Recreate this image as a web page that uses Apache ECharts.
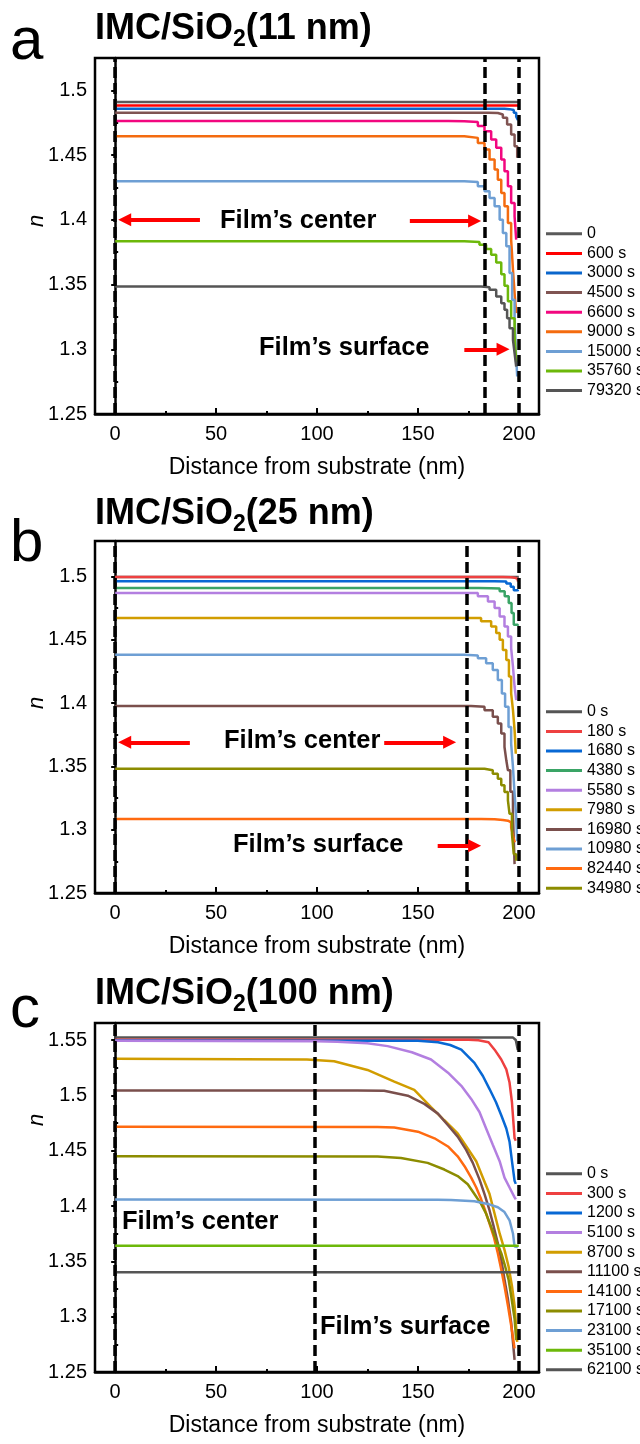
<!DOCTYPE html>
<html>
<head>
<meta charset="utf-8">
<script src="https://cdn.jsdelivr.net/npm/echarts@6/dist/echarts.min.js"></script>
<style>
  html, body { margin: 0; padding: 0; background: #fff; }
  #chart { width: 640px; height: 1444px; }
</style>
</head>
<body>
<div id="chart"></div>
<script>
// ---- ticks ----
const xTicks = [0, 50, 100, 150, 200];
const xMinor = [25, 75, 125, 175];
const yTicksAB = [1.25, 1.3, 1.35, 1.4, 1.45, 1.5];
const yMinorAB = [1.275, 1.325, 1.375, 1.425, 1.475];
const yTicksC = [1.25, 1.3, 1.35, 1.4, 1.45, 1.5, 1.55];
const yMinorC = [1.275, 1.325, 1.375, 1.425, 1.475, 1.525];

// ---- panel a : IMC/SiO2 (11 nm) ----
const namesA = ['0', '600 s', '3000 s', '4500 s', '6600 s', '9000 s', '15000 s', '35760 s', '79320 s'];
const colorsA = ['#5a5a5a', '#ff0000', '#0a66cc', '#805452', '#f2077f', '#f46b0f', '#6e9fd4', '#6cb80a', '#555555'];
const a0 = [[0, 1.491], [200, 1.491]];
const a600 = [[0, 1.4884], [200, 1.4884]];
const a3000 = [[0, 1.4858], [192.9, 1.4855], [195.4, 1.4848], [197.5, 1.4827], [198.7, 1.4796], [199.6, 1.477]];
const a4500 = [[0, 1.4827], [185, 1.4825], [189.6, 1.4814], [192.1, 1.4789], [194.2, 1.4737], [196.2, 1.466], [197.9, 1.4569], [199.2, 1.4479]];
const a6600 = [[0, 1.4763], [165, 1.4762], [173, 1.4755], [179.7, 1.4724], [183, 1.4685], [186.3, 1.4621], [188.8, 1.4556], [191.3, 1.4466], [192.9, 1.4375], [194.6, 1.426], [196.2, 1.413], [197.9, 1.4027], [198.7, 1.3847]];
const a9000 = [[0, 1.4646], [164.8, 1.4646], [173, 1.4633], [179.7, 1.4594], [183, 1.4543], [185.5, 1.4465], [188, 1.4388], [189.6, 1.431], [191.3, 1.4207], [192.9, 1.4104], [194.6, 1.3975], [196.2, 1.3846], [197.1, 1.3614], [197.9, 1.3434], [198.7, 1.328]];
const a15000 = [[0, 1.4298], [165, 1.4297], [173, 1.4293], [179.7, 1.4259], [183, 1.422], [185.5, 1.4169], [188, 1.4104], [190.5, 1.4001], [192.1, 1.3898], [193.8, 1.3795], [195.4, 1.3589], [196.7, 1.3382], [197.9, 1.3253], [198.5, 1.30], [199.2, 1.279]];
const a35760 = [[0, 1.3834], [165, 1.3834], [173, 1.3829], [180.5, 1.3808], [183.8, 1.3775], [186.3, 1.373], [188.8, 1.367], [191.3, 1.358], [192.9, 1.349], [194.6, 1.337], [196.2, 1.324], [197.9, 1.311], [198.7, 1.29]];
const a79320 = [[0, 1.3485], [170, 1.3485], [181.3, 1.348], [185.5, 1.346], [188.8, 1.3408], [191.3, 1.3356], [192.9, 1.3305], [194.2, 1.324], [195.4, 1.3163], [197.1, 1.3073], [197.9, 1.297], [198.7, 1.2866]];
const dashA = [0, 183, 200];
const arrowsA = [[[42, 1.4], [4.7, 1.4]], [[146, 1.399], [178.1, 1.399]], [[173, 1.30], [192.2, 1.30]]];

// ---- panel b : IMC/SiO2 (25 nm) ----
const namesB = ['0 s', '180 s', '1680 s', '4380 s', '5580 s', '7980 s', '16980 s', '10980 s', '82440 s', '34980 s'];
const colorsB = ['#555555', '#ee4040', '#0868d4', '#3aa466', '#b37fe0', '#d19d00', '#7a4f4c', '#6e9fd4', '#ff6a10', '#8c8c00'];
const b0 = [[0, 1.4995], [200, 1.4995]];
const b180 = [[0, 1.4995], [192, 1.4994], [196, 1.499], [198, 1.498], [199.5, 1.496]];
const b1680 = [[0, 1.4963], [188, 1.4961], [193.8, 1.4944], [196, 1.4918], [197.5, 1.4891], [199.5, 1.4883]];
const b4380 = [[0, 1.4908], [180, 1.4907], [186.3, 1.4905], [190.5, 1.4884], [193, 1.4844], [195, 1.4791], [196.4, 1.4712], [197.5, 1.4619], [199.5, 1.461]];
const b5580 = [[0, 1.4869], [171.4, 1.4869], [179.7, 1.4843], [184.7, 1.4803], [188, 1.475], [190.5, 1.4684], [192.9, 1.4605], [194.6, 1.4526], [196.2, 1.4434], [197.1, 1.4288], [197.9, 1.4129], [198.7, 1.4024]];
const b7980 = [[0, 1.4672], [174.7, 1.4672], [181.3, 1.4646], [186.3, 1.4605], [188.8, 1.4553], [190.5, 1.45], [192.1, 1.442], [193.8, 1.4341], [195.1, 1.4209], [196.2, 1.4077], [197.1, 1.3944], [197.9, 1.3786], [198.5, 1.36]];
const b16980 = [[0, 1.3976], [176.3, 1.397], [183, 1.3944], [187.1, 1.3891], [189.6, 1.3838], [191.3, 1.3759], [192.9, 1.3653], [193.8, 1.3548], [194.6, 1.347], [195.8, 1.33], [197.1, 1.3124], [197.9, 1.2728]];
const b10980 = [[0, 1.4381], [173, 1.4375], [179.7, 1.4354], [183.8, 1.4314], [187.1, 1.4262], [189.6, 1.4182], [191.6, 1.4076], [193.2, 1.397], [194.9, 1.3811], [196.2, 1.3679], [197.1, 1.3494], [197.9, 1.3283], [198.7, 1.31], [199.2, 1.291]];
const b82440 = [[0, 1.3085], [181.3, 1.3082], [188, 1.3077], [192.1, 1.3071], [194.6, 1.3058], [196.2, 1.3018], [197.1, 1.2952], [198, 1.29]];
const b34980 = [[0, 1.3482], [176.3, 1.3482], [183, 1.3469], [187.1, 1.3442], [189.6, 1.3403], [191.3, 1.335], [192.9, 1.3297], [194.6, 1.3231], [195.4, 1.3125], [196.6, 1.2966], [197.5, 1.2807], [198.7, 1.2754]];
const dashB = [0, 174, 200];
const arrowsB = [[[37, 1.369], [4.7, 1.369]], [[133.3, 1.369], [165.7, 1.369]], [[159.8, 1.2873], [178.1, 1.2873]]];

// ---- panel c : IMC/SiO2 (100 nm) ----
const namesC = ['0 s', '300 s', '1200 s', '5100 s', '8700 s', '11100 s', '14100 s', '17100 s', '23100 s', '35100 s', '62100 s'];
const colorsC = ['#555555', '#ee4040', '#0868d4', '#b37fe0', '#d19d00', '#7a4f4c', '#ff6a10', '#8c8c00', '#6e9fd4', '#6cb80a', '#555555'];
const c0 = [[0, 1.5524], [197, 1.5524], [198.5, 1.55], [199.5, 1.541]];
const c300 = [[0, 1.5503], [175, 1.5502], [180, 1.5498], [185, 1.548], [188, 1.5413], [191.3, 1.5324], [193.8, 1.5235], [195.4, 1.5116], [196.6, 1.4938], [197.9, 1.4612], [198.5, 1.459]];
const c1200 = [[0, 1.5495], [150, 1.5493], [160, 1.548], [166, 1.5455], [171.5, 1.5413], [178, 1.5294], [182.2, 1.5175], [185.5, 1.5057], [188.7, 1.4938], [191.3, 1.482], [193.8, 1.4701], [195.4, 1.4582], [196.6, 1.4405], [197.9, 1.4227], [198.5, 1.42]];
const c5100 = [[0, 1.5494], [100, 1.549], [110, 1.5485], [125, 1.547], [135, 1.5445], [147, 1.539], [156.5, 1.5324], [164.9, 1.5205], [171.5, 1.5086], [176.4, 1.4968], [180.5, 1.485], [183.8, 1.4701], [187.1, 1.4553], [190.5, 1.4405], [192.9, 1.4256], [195.4, 1.4167], [197.9, 1.4078], [198.5, 1.406]];
const c8700 = [[0, 1.533], [95, 1.5325], [108.5, 1.5309], [125, 1.523], [138.3, 1.5125], [148.2, 1.505], [156.5, 1.4894], [163.1, 1.4775], [169.7, 1.4657], [174.7, 1.452], [178.9, 1.4405], [182.2, 1.4256], [185.5, 1.4108], [188, 1.393], [190.5, 1.3752], [192.9, 1.3604], [194.9, 1.3456], [196.6, 1.3278], [197.9, 1.31], [199.2, 1.2773]];
const c11100 = [[0, 1.5044], [120, 1.5043], [133.3, 1.5042], [145, 1.4997], [153.2, 1.4923], [159.9, 1.4835], [164.9, 1.473], [169.7, 1.4627], [173.9, 1.4508], [177.2, 1.439], [180.5, 1.4241], [183, 1.4108], [185.5, 1.396], [187.6, 1.3811], [189.6, 1.3663], [191.3, 1.3515], [192.9, 1.3337], [194.6, 1.3159], [196.2, 1.2951], [197.9, 1.261]];
const c14100 = [[0, 1.4716], [130, 1.4714], [138.3, 1.471], [150, 1.4672], [158.2, 1.4612], [164.9, 1.4538], [169.7, 1.4449], [173.1, 1.436], [176.4, 1.4256], [178.9, 1.4167], [181.3, 1.4063], [183.3, 1.396], [185.5, 1.3841], [187.6, 1.3722], [189.6, 1.3574], [191.3, 1.3426], [192.9, 1.3278], [194.6, 1.31], [196.2, 1.2922], [197.9, 1.2714]];
const c17100 = [[0, 1.4449], [130, 1.4447], [141.6, 1.4434], [154.8, 1.439], [163.1, 1.433], [169.7, 1.4271], [174.7, 1.4197], [178, 1.4108], [181.3, 1.4019], [183.8, 1.393], [186.3, 1.3811], [188.7, 1.3693], [191.3, 1.3574], [193.2, 1.3456], [194.9, 1.3337], [196.2, 1.3189], [197.9, 1.2981], [198.7, 1.2788]];
const c23100 = [[0, 1.4058], [160, 1.4057], [166.4, 1.4054], [178, 1.4043], [184.6, 1.4019], [189.6, 1.3989], [192.9, 1.3945], [195.4, 1.3871], [197.1, 1.3752], [197.9, 1.3633], [199.5, 1.363]];
const c35100 = [[0, 1.364], [200, 1.364]];
const c62100 = [[0, 1.3402], [200, 1.3402]];
const dashC = [0, 99, 200];

const FONT = '"Liberation Sans", Arial, sans-serif';

const panels = [
  { key: 'a', names: namesA, colors: colorsA, step: 'end', dash: dashA, arrows: arrowsA,
    data: [a0, a600, a3000, a4500, a6600, a9000, a15000, a35760, a79320],
    grid: { top: 58, height: 356 }, yMax: 1.525, yTicks: yTicksAB, yMinor: yMinorAB, legendTop: 219 },
  { key: 'b', names: namesB, colors: colorsB, step: 'end', dash: dashB, arrows: arrowsB,
    data: [b0, b180, b1680, b4380, b5580, b7980, b16980, b10980, b82440, b34980],
    grid: { top: 541, height: 352 }, yMax: 1.528, yTicks: yTicksAB, yMinor: yMinorAB, legendTop: 697 },
  { key: 'c', names: namesC, colors: colorsC, step: false, dash: dashC, arrows: [],
    data: [c0, c300, c1200, c5100, c8700, c11100, c14100, c17100, c23100, c35100, c62100],
    grid: { top: 1023, height: 349 }, yMax: 1.5654, yTicks: yTicksC, yMinor: yMinorC, legendTop: 1159 }
];

const grids = [], xAxes = [], yAxes = [], series = [], legends = [];

panels.forEach((p, gi) => {
  grids.push({ left: 95, width: 444, top: p.grid.top, height: p.grid.height,
    show: true, borderColor: '#000', borderWidth: 2.5, backgroundColor: 'transparent' });

  xAxes.push({
    type: 'value', gridIndex: gi, min: -10, max: 210, position: 'bottom',
    axisLine: { lineStyle: { color: '#000', width: 2.5 } },
    axisTick: { inside: true, length: 6, customValues: xTicks, lineStyle: { color: '#000', width: 2 } },
    axisLabel: { customValues: xTicks, color: '#000', fontSize: 20, fontFamily: FONT, margin: 10 },
    splitLine: { show: false },
    name: 'Distance from substrate (nm)', nameLocation: 'middle', nameGap: 42,
    nameTextStyle: { color: '#000', fontSize: 23, fontFamily: FONT }
  });
  xAxes.push({
    type: 'value', gridIndex: gi, min: -10, max: 210, position: 'bottom',
    axisLine: { show: false },
    axisTick: { inside: true, length: 3, customValues: xMinor, lineStyle: { color: '#000', width: 2 } },
    axisLabel: { show: false }, splitLine: { show: false }
  });
  yAxes.push({
    type: 'value', gridIndex: gi, min: 1.25, max: p.yMax, position: 'left',
    axisLine: { show: true, lineStyle: { color: '#000', width: 2.5 } },
    axisTick: { show: true, inside: false, length: 4, customValues: p.yTicks, lineStyle: { color: '#000', width: 2 } },
    axisLabel: { customValues: p.yTicks, color: '#000', fontSize: 20, fontFamily: FONT, margin: 8 },
    splitLine: { show: false }
  });
  yAxes.push({
    type: 'value', gridIndex: gi, min: 1.25, max: p.yMax, position: 'left',
    axisLine: { show: false },
    axisTick: { show: true, inside: true, length: 3, customValues: p.yMinor, lineStyle: { color: '#000', width: 2 } },
    axisLabel: { show: false }, splitLine: { show: false }
  });

  p.names.forEach((nm, i) => {
    const s = {
      name: p.key + ':' + nm, type: 'line', xAxisIndex: gi * 2, yAxisIndex: gi * 2,
      data: p.data[i], symbol: 'none', showSymbol: false, step: p.step,
      lineStyle: { color: p.colors[i], width: 2.5 }, itemStyle: { color: p.colors[i] },
      animation: false
    };
    if (i === p.names.length - 1) {
      s.markLine = {
        silent: true, animation: false, symbol: ['none', 'none'], label: { show: false },
        data: p.dash.map(v => ({ xAxis: v, lineStyle: { type: [11, 5], color: '#000', width: 3.5 } }))
          .concat(p.arrows.map(ar => [
            { coord: ar[0], symbol: 'none', lineStyle: { color: '#ff0000', width: 4, type: 'solid' }, itemStyle: { color: '#ff0000' } },
            { coord: ar[1], symbol: 'triangle', symbolSize: 13, itemStyle: { color: '#ff0000' } }
          ]))
      };
    }
    series.push(s);
  });

  legends.push({
    data: p.names.map(nm => p.key + ':' + nm), orient: 'vertical', left: 541, top: p.legendTop,
    icon: 'rect', itemWidth: 36, itemHeight: 3, itemGap: 0, selectedMode: false,
    formatter: name => name.split(':')[1],
    textStyle: { color: '#000', fontSize: 16, lineHeight: 19.6, fontFamily: FONT }
  });
});

function title(y, label) {
  return {
    type: 'text', x: 95, y: y,
    style: {
      text: '{t|IMC/SiO}{s|2}{t|(' + label + ')}', verticalAlign: 'middle', fill: '#000',
      rich: {
        t: { fontSize: 36, fontWeight: 'bold', fontFamily: FONT, fill: '#000' },
        s: { fontSize: 23, fontWeight: 'bold', fontFamily: FONT, fill: '#000', padding: [22, 0, 0, 0] }
      }
    }
  };
}
function letter(y, ch) {
  return { type: 'text', x: 10, y: y, style: { text: ch, font: '60px ' + FONT, fill: '#000', verticalAlign: 'bottom' } };
}
function nLabel(y) {
  return { type: 'text', x: 37, y: y, rotation: Math.PI / 2,
    style: { text: 'n', font: 'italic 22px ' + FONT, fill: '#000', align: 'center', verticalAlign: 'middle' } };
}
function note(x, y, txt) {
  return { type: 'text', x: x, y: y, style: { text: txt, font: 'bold 25.5px ' + FONT, fill: '#000', verticalAlign: 'middle' } };
}

const graphics = [
  title(29, '11 nm'), title(514, '25 nm'), title(994, '100 nm'),
  letter(72, 'a'), letter(574, 'b'), letter(1040, 'c'),
  nLabel(221), nLabel(703), nLabel(1120),
  note(220, 221, 'Film\u2019s center'), note(259, 348, 'Film\u2019s surface'),
  note(224, 741, 'Film\u2019s center'), note(233, 845, 'Film\u2019s surface'),
  note(122, 1222, 'Film\u2019s center'), note(320, 1327, 'Film\u2019s surface')
];

const chart = echarts.init(document.getElementById('chart'), null, { renderer: 'canvas' });
chart.setOption({
  backgroundColor: '#fff',
  animation: false,
  grid: grids,
  xAxis: xAxes,
  yAxis: yAxes,
  legend: legends,
  series: series,
  graphic: graphics
});
</script>
</body>
</html>
